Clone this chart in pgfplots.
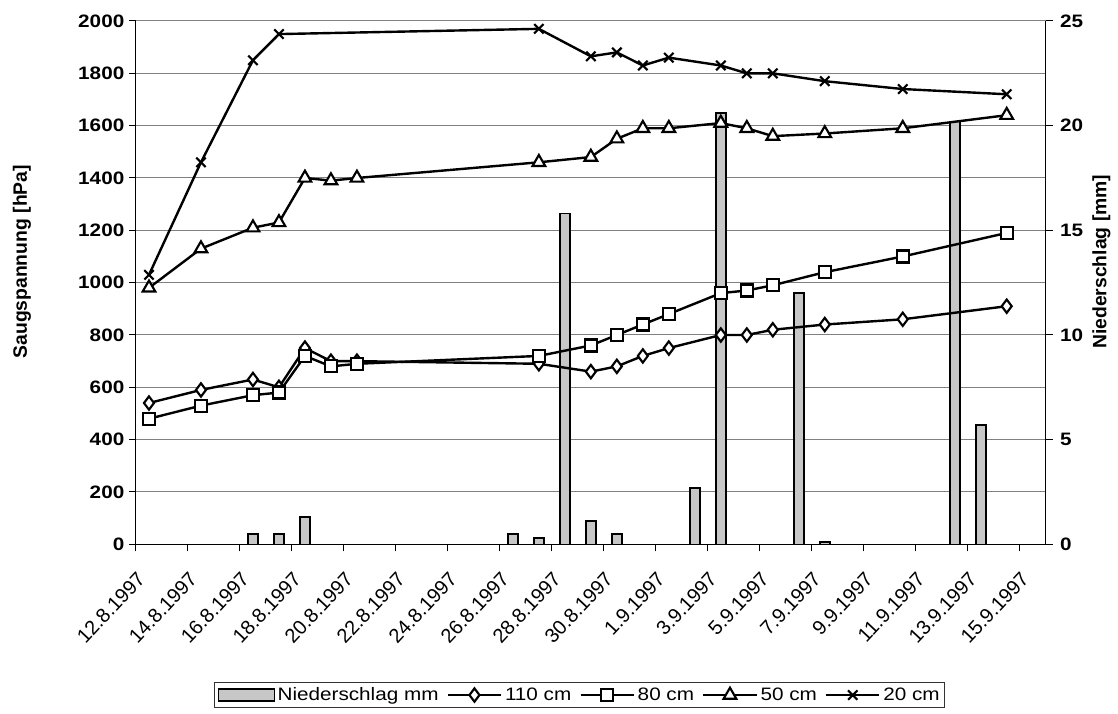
\documentclass[border=0pt]{standalone}
\usepackage{fontspec}
\setmainfont[FakeStretch=1.15]{Liberation Sans}
\newfontfamily\plainsans{Liberation Sans}
\usepackage{pgfplots}
\pgfplotsset{compat=1.18}

\begin{document}
\begin{tikzpicture}
\pgfplotsset{
  common/.style={width=682.3pt, height=392.5pt, scale only axis,
    xmin=-0.5, xmax=34.5, at={(0,0)}, anchor=south west,
    tick align=outside, major tick length=5.25pt,
    tick style={black, line width=0.75pt},
    axis line style={black, line width=0.75pt},
    /pgf/number format/assume math mode=true,
    /pgf/number format/1000 sep={}},
}
% background axis: left scale, grid, x axis
\begin{axis}[common, name=A, ymin=0, ymax=2000,
  axis x line*=bottom, axis y line*=left,
  ytick={0,200,...,2000}, ymajorgrids,
  grid style={black!50, line width=0.75pt},
  xtick={-0.5,1.5,...,33.5},
  xticklabels={12.8.1997,14.8.1997,16.8.1997,18.8.1997,20.8.1997,22.8.1997,24.8.1997,26.8.1997,28.8.1997,30.8.1997,1.9.1997,3.9.1997,5.9.1997,7.9.1997,9.9.1997,11.9.1997,13.9.1997,15.9.1997},
  xticklabel style={font=\plainsans\fontsize{15}{17}\selectfont, yshift=-14pt, xshift=0pt, rotate=47, anchor=north east, inner sep=0pt},
  yticklabel style={font=\fontsize{13.5}{15}\selectfont\bfseries},
  ylabel={Saugspannung [hPa]},
  every axis y label/.style={font=\plainsans\fontsize{14.5}{16}\selectfont\bfseries,
    at={(axis description cs:-0.1253,0.54)}, anchor=center, rotate=90},
]
\end{axis}
% precipitation bars: right scale
\begin{axis}[common, ymin=0, ymax=25,
  axis y line*=right, axis x line=none,
  ytick={0,5,...,25},
  yticklabel style={font=\fontsize{13.5}{15}\selectfont\bfseries, xshift=2pt},
  ylabel={Niederschlag [mm]},
  every axis y label/.style={font=\plainsans\fontsize{14.5}{16}\selectfont\bfseries,
    at={(axis description cs:1.0613,0.54)}, anchor=center, rotate=90},
]
\addplot[ybar, bar width=7.5pt, fill=black!22, draw=black, line width=1.2pt]
  coordinates {(4,0.5) (5,0.5) (6,1.3) (14,0.5) (15,0.3) (16,15.8) (17,1.1)
               (18,0.5) (21,2.7) (22,20.6) (25,12.0) (26,0.1) (31,20.2) (32,5.7)};
\end{axis}
% suction lines: left scale
\begin{axis}[common, ymin=0, ymax=2000, hide axis, clip=false,
  legend style={at={(axis description cs:0.488,-0.288)}, anchor=center,
    draw=black!80, line width=0.75pt, font=\fontsize{13.5}{15}\selectfont,
    inner sep=2pt,
    /tikz/every even column/.append style={column sep=4pt}},
  legend columns=-1,
  legend image code/.code={\draw[mark repeat=2,mark phase=2] plot coordinates {(0pt,0pt) (20pt,0pt) (40pt,0pt)};},
  every axis plot/.append style={black, line width=1.8pt, mark options={fill=white, solid, line width=1.6pt}},
]
\addlegendimage{legend image code/.code={\draw[draw=black, fill=black!22, line width=1pt] (0pt,-4.5pt) rectangle (42pt,4.5pt);}}
\addlegendentry{Niederschlag mm}
\addplot[mark=diamond*, mark size=5pt] coordinates {
  (0,540) (2,590) (4,630) (5,600) (6,750) (7,700) (8,700) (15,690) (17,660)
  (18,680) (19,720) (20,750) (22,800) (23,800) (24,820) (26,840) (29,860) (33,910)};
\addlegendentry{110 cm}
\addplot[mark=square*, mark size=4.5pt] coordinates {
  (0,480) (2,530) (4,570) (5,580) (6,720) (7,680) (8,690) (15,720) (17,760)
  (18,800) (19,840) (20,880) (22,960) (23,970) (24,990) (26,1040) (29,1100) (33,1190)};
\addlegendentry{80 cm}
\addplot[mark=triangle*, mark size=5.5pt] coordinates {
  (0,980) (2,1130) (4,1210) (5,1230) (6,1400) (7,1390) (8,1400) (15,1460) (17,1480)
  (18,1550) (19,1590) (20,1590) (22,1610) (23,1590) (24,1560) (26,1570) (29,1590) (33,1640)};
\addlegendentry{50 cm}
\addplot[mark=x, mark size=5pt] coordinates {
  (0,1030) (2,1460) (4,1850) (5,1950) (15,1970) (17,1865) (18,1880) (19,1830)
  (20,1860) (22,1830) (23,1800) (24,1800) (26,1770) (29,1740) (33,1720)};
\addlegendentry{20 cm}
\end{axis}
\pgfresetboundingbox
\path[use as bounding box] ([shift={(-102pt,-126.525pt)}]A.south west) rectangle ([shift={(54.225pt,15.75pt)}]A.north east);
\end{tikzpicture}
\end{document}
